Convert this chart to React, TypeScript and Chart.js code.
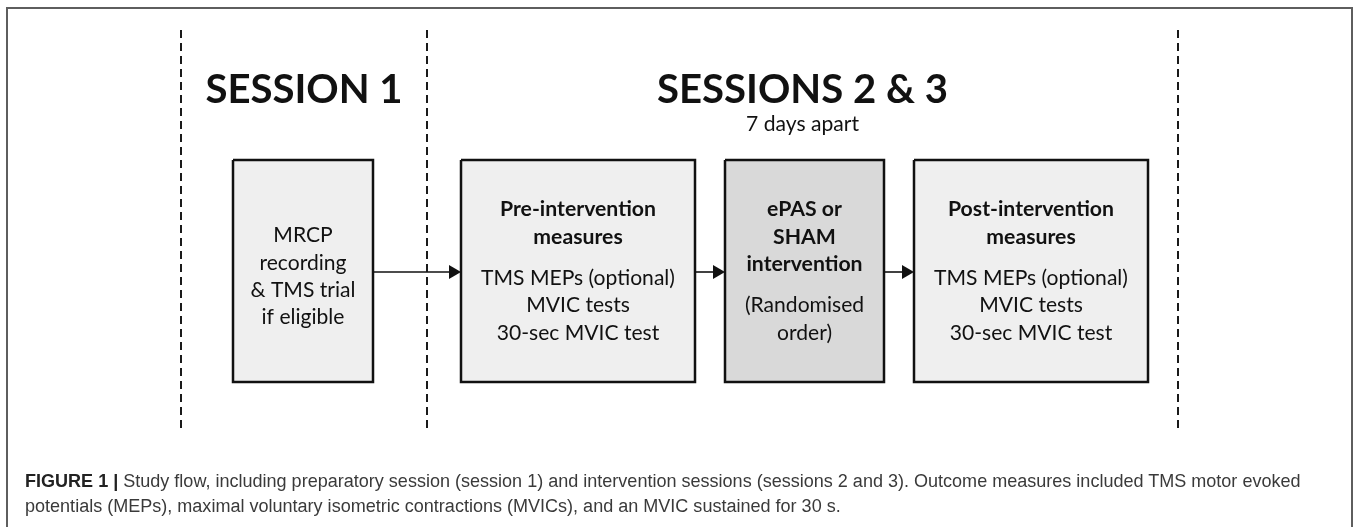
import React, { useEffect, useRef } from 'react';
import { Chart, registerables } from 'chart.js';

Chart.register(...registerables);

const W = 1357;
const H = 527;

// Outer figure frame (diagram units = pixels of the figure)
const frameX = [7, 7, 1352, 1352];
const frameY = [527, 8, 8, 527];

// Session dividers (dashed verticals)
const dividerX = [181, 427, 1178];
const dividerTop = 30;
const dividerBottom = 433;

// Boxes
const boxLeft = [233, 461, 725, 914];
const boxRight = [373, 695, 884, 1148];
const boxTop = [160, 160, 160, 160];
const boxBottom = [382, 382, 382, 382];
const boxShade = ['light', 'light', 'dark', 'light'];

const boxHeadings = [
  [],
  ['Pre-intervention', 'measures'],
  ['ePAS or', 'SHAM', 'intervention'],
  ['Post-intervention', 'measures'],
];
const boxHeadingY = [[], [209, 237], [209, 237, 264], [209, 237]];
const boxBody = [
  ['MRCP', 'recording', '& TMS trial', 'if eligible'],
  ['TMS MEPs (optional)', 'MVIC tests', '30-sec MVIC test'],
  ['(Randomised', 'order)'],
  ['TMS MEPs (optional)', 'MVIC tests', '30-sec MVIC test'],
];
const boxBodyY = [
  [235, 263, 290, 317],
  [278, 305, 333],
  [305, 333],
  [278, 305, 333],
];

// Arrows
const arrowFrom = [373, 695, 884];
const arrowTo = [461, 725, 914];
const arrowY = [272, 272, 272];

// Session titles
const sessionTitles = ['SESSION 1', 'SESSIONS 2 & 3'];
const sessionTitleY = [90, 90];
const sessionSubtitles = ['', '7 days apart'];
const sessionSubtitleY = [124, 124];

// Caption
const captionLead = 'FIGURE 1 |';
const captionLine1 =
  ' Study flow, including preparatory session (session 1) and intervention sessions (sessions 2 and 3). Outcome measures included TMS motor evoked';
const captionLine2 =
  'potentials (MEPs), maximal voluntary isometric contractions (MVICs), and an MVIC sustained for 30 s.';

const DIAGRAM_FONT = 'Lato, "Open Sans", sans-serif';
const CAPTION_FONT = '"Liberation Sans", Arial, sans-serif';

function measure(text: string, font: string) {
  const c = document.createElement('canvas');
  const ctx = c.getContext('2d')!;
  ctx.font = font;
  return ctx.measureText(text).width;
}

function fitSize(text: string, weight: string, family: string, target: number) {
  const w = measure(text, `${weight} 100px ${family}`);
  return (100 * target) / w;
}

const textPlugin = {
  id: 'diagramText',
  afterDatasetsDraw(chart: any) {
    const { ctx, scales } = chart;
    const px = (v: number) => scales.x.getPixelForValue(v);
    const py = (v: number) => scales.y.getPixelForValue(v);
    const titleSize = fitSize('SESSIONS 2 & 3', 'bold', DIAGRAM_FONT, 291);
    const subSize = fitSize('7 days apart', 'normal', DIAGRAM_FONT, 113);
    const bodySize = fitSize('TMS MEPs (optional)', 'normal', DIAGRAM_FONT, 194);
    const headSize = fitSize('Pre-intervention', 'bold', DIAGRAM_FONT, 156);
    ctx.save();
    ctx.textAlign = 'center';
    ctx.textBaseline = 'middle';
    ctx.fillStyle = '#111';
    sessionTitles.forEach((t, i) => {
      const cx = (dividerX[i] + dividerX[i + 1]) / 2;
      ctx.font = `bold ${titleSize}px ${DIAGRAM_FONT}`;
      ctx.fillText(t, px(cx), py(sessionTitleY[i]));
      if (sessionSubtitles[i]) {
        ctx.font = `normal ${subSize}px ${DIAGRAM_FONT}`;
        ctx.fillText(sessionSubtitles[i], px(cx), py(sessionSubtitleY[i]));
      }
    });
    boxLeft.forEach((l, i) => {
      const cx = (l + boxRight[i]) / 2;
      ctx.font = `bold ${headSize}px ${DIAGRAM_FONT}`;
      boxHeadings[i].forEach((t, j) => ctx.fillText(t, px(cx), py(boxHeadingY[i][j])));
      ctx.font = `normal ${bodySize}px ${DIAGRAM_FONT}`;
      boxBody[i].forEach((t, j) => ctx.fillText(t, px(cx), py(boxBodyY[i][j])));
    });
    ctx.restore();
  },
};

export default function App() {
  const ref = useRef<HTMLCanvasElement | null>(null);

  useEffect(() => {
    if (!ref.current) return;
    const datasets: any[] = [];

    datasets.push({
      data: frameX.map((x, i) => ({ x, y: frameY[i] })),
      showLine: true,
      borderColor: '#5e5e5e',
      borderWidth: 2,
      pointRadius: 0,
      fill: false,
      tension: 0,
      clip: false,
    });

    dividerX.forEach((x) => {
      datasets.push({
        data: [
          { x, y: dividerTop },
          { x, y: dividerBottom },
        ],
        showLine: true,
        borderColor: '#1a1a1a',
        borderWidth: 2,
        borderDash: [8, 5],
        borderCapStyle: 'butt',
        pointRadius: 0,
        fill: false,
      });
    });

    const head = 8;
    arrowFrom.forEach((x0, i) => {
      datasets.push({
        data: [
          { x: x0, y: arrowY[i] },
          { x: arrowTo[i] - head, y: arrowY[i] },
        ],
        showLine: true,
        borderColor: '#111',
        borderWidth: 1.6,
        pointRadius: [0, head],
        pointStyle: 'triangle',
        rotation: 90,
        pointBackgroundColor: '#111',
        pointBorderColor: '#111',
        pointBorderWidth: 0,
        fill: false,
      });
    });

    boxLeft.forEach((l, i) => {
      const r = boxRight[i];
      const t = boxTop[i];
      const b = boxBottom[i];
      datasets.push({
        data: [
          { x: l, y: t },
          { x: r, y: t },
          { x: r, y: b },
          { x: l, y: b },
          { x: l, y: t },
        ],
        showLine: true,
        borderColor: '#111',
        borderWidth: 2.5,
        borderJoinStyle: 'miter',
        backgroundColor: boxShade[i] === 'dark' ? '#d9d9d9' : '#efefef',
        fill: 'shape',
        pointRadius: 0,
        tension: 0,
      });
    });

    const chart = new Chart(ref.current, {
      type: 'scatter',
      data: { datasets },
      options: {
        animation: false,
        responsive: false,
        devicePixelRatio: 1,
        layout: { padding: 0, autoPadding: false },
        events: [],
        plugins: {
          legend: { display: false },
          tooltip: { enabled: false },
          title: { display: false },
        },
        scales: {
          x: { type: 'linear', min: 0, max: W, display: false },
          y: { type: 'linear', min: 0, max: H, reverse: true, display: false },
        },
      },
      plugins: [textPlugin],
    });
    return () => chart.destroy();
  }, []);

  const lead = measure(captionLead, `bold 100px ${CAPTION_FONT}`);
  const rest = measure(captionLine1, `normal 100px ${CAPTION_FONT}`);
  const capSize = (100 * 1277) / (lead + rest);

  return (
    <div style={{ position: 'fixed', left: 0, top: 0, width: W, height: H, background: '#fff' }}>
      <canvas ref={ref} width={W} height={H} style={{ display: 'block' }} />
      <div
        style={{
          position: 'absolute',
          left: 25,
          top: 468.5,
          fontFamily: CAPTION_FONT,
          fontSize: capSize,
          lineHeight: '25px',
          color: '#3a3a3a',
          whiteSpace: 'nowrap',
        }}
      >
        <div>
          <span style={{ fontWeight: 'bold', color: '#222' }}>{captionLead}</span>
          {captionLine1}
        </div>
        <div>{captionLine2}</div>
      </div>
    </div>
  );
}
